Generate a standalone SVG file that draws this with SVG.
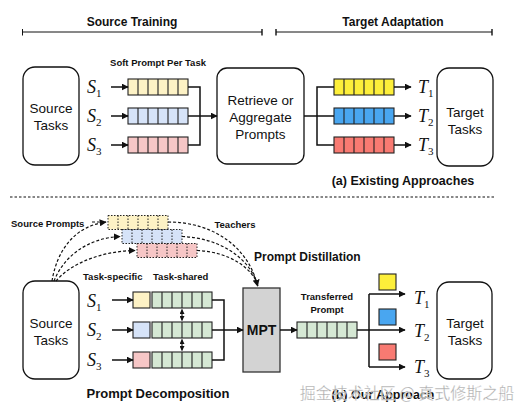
<svg xmlns="http://www.w3.org/2000/svg" width="520" height="411" viewBox="0 0 520 411">
<defs>
<marker id="ah" viewBox="0 0 10 10" refX="9" refY="5" markerWidth="7" markerHeight="7" markerUnits="userSpaceOnUse" orient="auto">
<path d="M0,0 L10,5 L0,10 Z" fill="#111"/>
</marker>
<marker id="ahs" viewBox="0 0 10 10" refX="9" refY="5" markerWidth="5" markerHeight="5" markerUnits="userSpaceOnUse" orient="auto-start-reverse">
<path d="M0,0 L10,5 L0,10 Z" fill="#111"/>
</marker>
<marker id="tick" viewBox="0 0 2 10" refX="1" refY="5" markerWidth="1.5" markerHeight="7" markerUnits="userSpaceOnUse" orient="auto">
<rect x="0" y="0" width="2" height="10" fill="#111"/>
</marker>
</defs>
<style>
text{font-family:"Liberation Sans",Arial,sans-serif;fill:#111}
.b{font-weight:bold}
.nd{fill:#fff;stroke:#111;stroke-width:1.3}
.ln{fill:none;stroke:#111;stroke-width:1.5}
.dl{fill:none;stroke:#111;stroke-width:1.2;stroke-dasharray:3 2}
.cell{stroke:#222;stroke-width:1.1}
.dot{stroke:#222;stroke-width:1;stroke-dasharray:1.5 1.5}
.var{font-family:"Liberation Serif","Times New Roman",serif;font-style:italic;font-size:18px}
.sub{font-style:normal;font-size:11px}
.box{font-size:13.5px}
</style>
<rect width="520" height="411" fill="#fff"/>

<!-- headers -->
<g id="headers">
<text x="132" y="26" class="b" font-size="12" text-anchor="middle">Source Training</text>
<text x="393" y="26" class="b" font-size="12" text-anchor="middle">Target Adaptation</text>
<line x1="22.5" y1="32" x2="262" y2="32" stroke="#111" stroke-width="1" marker-start="url(#tick)" marker-end="url(#tick)"/>
<line x1="276" y1="32" x2="492" y2="32" stroke="#111" stroke-width="1" marker-start="url(#tick)" marker-end="url(#tick)"/>
<line x1="10" y1="197" x2="494" y2="197" stroke="#111" stroke-width="1.2" stroke-dasharray="2.5 2"/>
</g>

<!-- ===== (a) Existing approaches ===== -->
<g id="a-source">
<rect x="23" y="67" width="56" height="98" rx="12" class="nd"/>
<text x="51" y="113" class="box" text-anchor="middle">Source</text>
<text x="51" y="130" class="box" text-anchor="middle">Tasks</text>
</g>
<g id="a-labels">
<text x="158" y="66" class="b" font-size="9.5" text-anchor="middle">Soft Prompt Per Task</text>
<text x="87" y="93" class="var">S<tspan class="sub" dy="4">1</tspan></text>
<text x="87" y="122" class="var">S<tspan class="sub" dy="4">2</tspan></text>
<text x="87" y="151" class="var">S<tspan class="sub" dy="4">3</tspan></text>
</g>
<g id="a-prompts">
<rect x="128" y="79" width="60" height="16" fill="#fdf2c5" class="cell"/>
<rect x="128" y="108" width="60" height="16" fill="#d6e3f8" class="cell"/>
<rect x="128" y="137" width="60" height="16" fill="#f6c6c6" class="cell"/>
<path d="M138,79v16M148,79v16M158,79v16M168,79v16M178,79v16M138,108v16M148,108v16M158,108v16M168,108v16M178,108v16M138,137v16M148,137v16M158,137v16M168,137v16M178,137v16" class="cell" fill="none"/>
</g>
<g id="a-retrieve">
<rect x="217" y="68" width="87" height="96" rx="10" class="nd"/>
<text x="260.5" y="105" class="box" text-anchor="middle">Retrieve or</text>
<text x="260.5" y="122" class="box" text-anchor="middle">Aggregate</text>
<text x="260.5" y="139" class="box" text-anchor="middle">Prompts</text>
</g>
<g id="a-target-prompts">
<rect x="334" y="79" width="60" height="16" fill="#fdef3a" class="cell"/>
<rect x="334" y="108" width="60" height="16" fill="#49a6f0" class="cell"/>
<rect x="334" y="137" width="60" height="16" fill="#f87a72" class="cell"/>
<path d="M344,79v16M354,79v16M364,79v16M374,79v16M384,79v16M344,108v16M354,108v16M364,108v16M374,108v16M384,108v16M344,137v16M354,137v16M364,137v16M374,137v16M384,137v16" class="cell" fill="none"/>
<text x="418" y="93" class="var">T<tspan class="sub" dy="4">1</tspan></text>
<text x="418" y="122" class="var">T<tspan class="sub" dy="4">2</tspan></text>
<text x="418" y="151" class="var">T<tspan class="sub" dy="4">3</tspan></text>
</g>
<g id="a-target">
<rect x="437" y="68" width="56" height="98" rx="12" class="nd"/>
<text x="465" y="117" class="box" text-anchor="middle">Target</text>
<text x="465" y="134" class="box" text-anchor="middle">Tasks</text>
</g>
<text x="403" y="185" class="b" font-size="12.5" text-anchor="middle">(a) Existing Approaches</text>

<g id="a-connectors">
<line x1="111" y1="87" x2="128" y2="87" class="ln" marker-end="url(#ah)"/>
<line x1="111" y1="116" x2="128" y2="116" class="ln" marker-end="url(#ah)"/>
<line x1="111" y1="145" x2="128" y2="145" class="ln" marker-end="url(#ah)"/>
<path d="M188,87H200V145H188" class="ln"/>
<line x1="188" y1="116" x2="217" y2="116" class="ln" marker-end="url(#ah)"/>
<path d="M334,87H317V145H334M304,116H334" class="ln"/>
<line x1="394" y1="87" x2="411" y2="87" class="ln" marker-end="url(#ah)"/>
<line x1="394" y1="116" x2="411" y2="116" class="ln" marker-end="url(#ah)"/>
<line x1="394" y1="145" x2="411" y2="145" class="ln" marker-end="url(#ah)"/>
</g>

<!-- ===== (b) Our approach ===== -->
<g id="b-teachers">
<rect x="108" y="215.5" width="60" height="14" fill="#fdf2c5" class="dot"/>
<path d="M118,215.5v14M128,215.5v14M138,215.5v14M148,215.5v14M158,215.5v14" class="dot"/>
<rect x="122" y="229.5" width="60" height="14" fill="#d6e3f8" class="dot"/>
<path d="M132,229.5v14M142,229.5v14M152,229.5v14M162,229.5v14M172,229.5v14" class="dot"/>
<rect x="137" y="243.5" width="60" height="14" fill="#f6c6c6" class="dot"/>
<path d="M147,243.5v14M157,243.5v14M167,243.5v14M177,243.5v14M187,243.5v14" class="dot"/>
</g>
<g id="b-labels">
<text x="11" y="227" class="b" font-size="9.5">Source Prompts</text>
<text x="235" y="228" class="b" font-size="9.5" text-anchor="middle">Teachers</text>
<text x="254" y="261" class="b" font-size="12">Prompt Distillation</text>
<text x="83" y="280" class="b" font-size="9.5">Task-specific</text>
<text x="153" y="280" class="b" font-size="9.5">Task-shared</text>
<text x="158" y="398" class="b" font-size="13" text-anchor="middle">Prompt Decomposition</text>
<text x="327" y="300" class="b" font-size="9.5" text-anchor="middle">Transferred</text>
<text x="327" y="313" class="b" font-size="9.5" text-anchor="middle">Prompt</text>
<text x="87" y="307" class="var">S<tspan class="sub" dy="4">1</tspan></text>
<text x="87" y="336" class="var">S<tspan class="sub" dy="4">2</tspan></text>
<text x="87" y="366" class="var">S<tspan class="sub" dy="4">3</tspan></text>
<text x="414" y="304" class="var">T<tspan class="sub" dy="4">1</tspan></text>
<text x="414" y="337" class="var">T<tspan class="sub" dy="4">2</tspan></text>
<text x="414" y="373" class="var">T<tspan class="sub" dy="4">3</tspan></text>
</g>
<g id="b-source">
<rect x="23" y="281" width="56" height="98" rx="12" class="nd"/>
<text x="51" y="328" class="box" text-anchor="middle">Source</text>
<text x="51" y="345" class="box" text-anchor="middle">Tasks</text>
</g>
<g id="b-decomposed">
<rect x="133" y="292" width="17" height="16" fill="#fdf2c5" class="cell"/>
<rect x="133" y="322" width="17" height="16" fill="#d6e3f8" class="cell"/>
<rect x="133" y="352" width="17" height="16" fill="#f6c6c6" class="cell"/>
<rect x="152" y="292" width="60" height="16" fill="#d5e8d4" class="cell"/>
<rect x="152" y="322" width="60" height="16" fill="#d5e8d4" class="cell"/>
<rect x="152" y="352" width="60" height="16" fill="#d5e8d4" class="cell"/>
<path d="M162,292v16M172,292v16M182,292v16M192,292v16M202,292v16M162,322v16M172,322v16M182,322v16M192,322v16M202,322v16M162,352v16M172,352v16M182,352v16M192,352v16M202,352v16" class="cell" fill="none"/>
</g>
<g id="b-mpt">
<rect x="243" y="288" width="37" height="84" fill="#d3d3d3" stroke="#333" stroke-width="1.3"/>
<text x="261.5" y="335" class="b" font-size="14" text-anchor="middle">MPT</text>
</g>
<g id="b-transferred">
<rect x="297" y="322" width="60" height="16" fill="#d5e8d4" class="cell"/>
<path d="M307,322v16M317,322v16M327,322v16M337,322v16M347,322v16" class="cell" fill="none"/>
</g>
<g id="b-small-prompts">
<rect x="379" y="274" width="17" height="16" fill="#fdef3a" class="cell"/>
<rect x="379" y="309" width="17" height="16" fill="#49a6f0" class="cell"/>
<rect x="379" y="344" width="17" height="16" fill="#f87a72" class="cell"/>
</g>
<g id="b-target">
<rect x="437" y="282" width="55" height="97" rx="12" class="nd"/>
<text x="465" y="328" class="box" text-anchor="middle">Target</text>
<text x="465" y="345" class="box" text-anchor="middle">Tasks</text>
</g>

<g id="b-connectors">
<path d="M52,281 C57,250 75,226 106,222" class="dl" marker-end="url(#ah)"/>
<path d="M54,281 C64,256 88,238 120,236.5" class="dl" marker-end="url(#ah)"/>
<path d="M56,281 C72,262 104,251 135,250.5" class="dl" marker-end="url(#ah)"/>
<line x1="92" y1="222" x2="100" y2="222" class="dl"/>
<path d="M168,222 C214,222 249,248 257.5,286" class="dl" marker-end="url(#ah)"/>
<path d="M182,236.5 C220,238 250,258 258,286" class="dl"/>
<path d="M197,250.5 C230,252 252,268 258.5,286" class="dl"/>
<line x1="112" y1="300" x2="133" y2="300" class="ln" marker-end="url(#ah)"/>
<line x1="112" y1="330" x2="133" y2="330" class="ln" marker-end="url(#ah)"/>
<line x1="112" y1="360" x2="133" y2="360" class="ln" marker-end="url(#ah)"/>
<line x1="182" y1="309.5" x2="182" y2="320.5" stroke="#111" stroke-width="1.1" marker-start="url(#ahs)" marker-end="url(#ahs)"/>
<line x1="182" y1="339.5" x2="182" y2="350.5" stroke="#111" stroke-width="1.1" marker-start="url(#ahs)" marker-end="url(#ahs)"/>
<path d="M212,300H224V360H212" class="ln"/>
<line x1="212" y1="330" x2="243" y2="330" class="ln" marker-end="url(#ah)"/>
<line x1="280" y1="330" x2="297" y2="330" class="ln" marker-end="url(#ah)"/>
<path d="M357,330H369M369,294V367" class="ln"/>
<line x1="369" y1="294" x2="405" y2="294" class="ln" marker-end="url(#ah)"/>
<line x1="369" y1="330" x2="405" y2="330" class="ln" marker-end="url(#ah)"/>
<line x1="369" y1="367" x2="405" y2="367" class="ln" marker-end="url(#ah)"/>
</g>

<text x="383" y="399" class="b" font-size="12.5" text-anchor="middle">(b) Our Approach</text>
<text x="407" y="399" font-size="16" text-anchor="middle" style="font-family:'Noto Sans CJK SC',sans-serif;fill:#8a8a8a;fill-opacity:0.85;stroke:#fff;stroke-width:0.6;stroke-opacity:0.7">掘金技术社区 @ 真式修斯之船</text>
</svg>
